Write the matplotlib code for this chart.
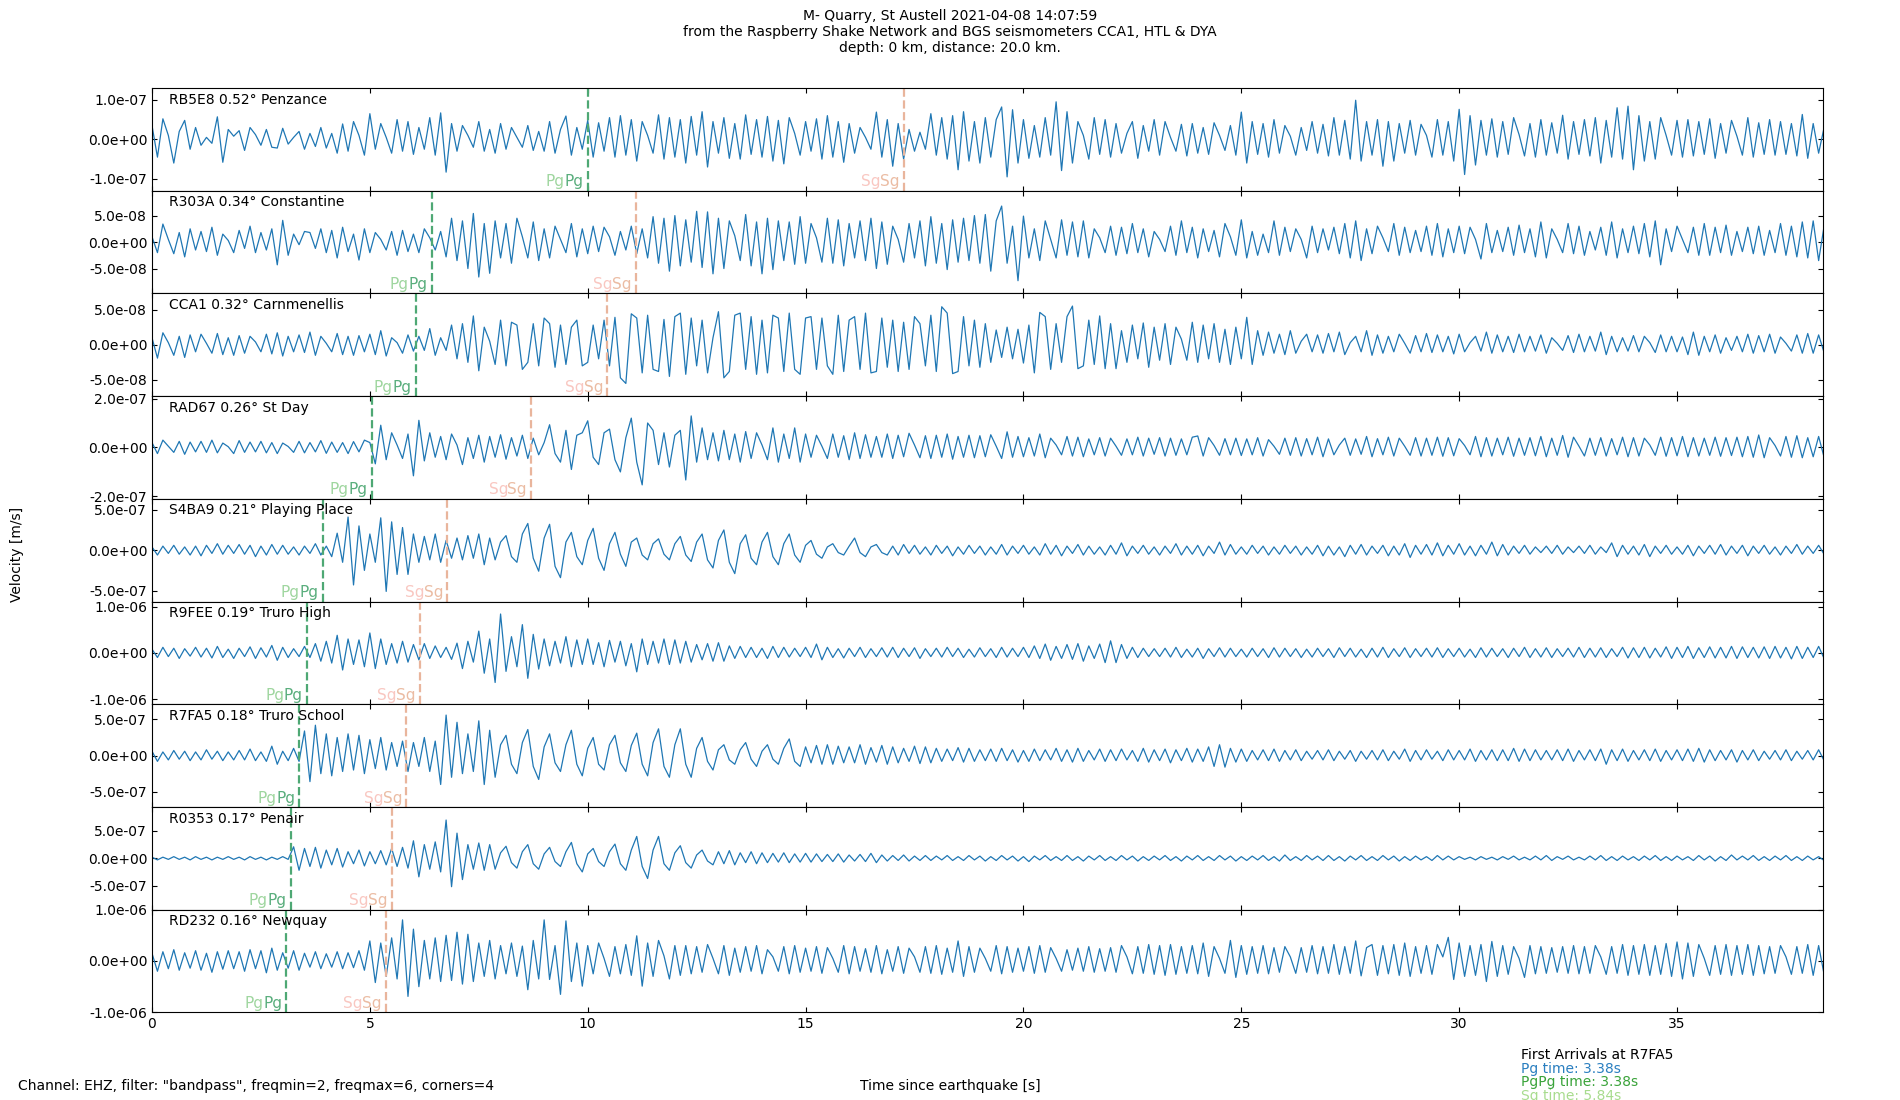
import numpy as np
import matplotlib

matplotlib.use("Agg")
import matplotlib.pyplot as plt
from matplotlib.ticker import FormatStrFormatter

dt = 0.125

stations = ["RB5E8", "R303A", "CCA1", "RAD67", "S4BA9", "R9FEE", "R7FA5", "R0353", "RD232"]
distances = [0.52, 0.34, 0.32, 0.26, 0.21, 0.19, 0.18, 0.17, 0.16]
places = ["Penzance", "Constantine", "Carnmenellis", "St Day", "Playing Place",
          "Truro High", "Truro School", "Penair", "Newquay"]
pg_times = [10.0, 6.42, 6.05, 5.05, 3.92, 3.56, 3.38, 3.19, 3.08]
sg_times = [17.25, 11.1, 10.45, 8.7, 6.78, 6.14, 5.84, 5.5, 5.36]
units = [1e-9, 1e-9, 1e-9, 1e-9, 1e-8, 1e-8, 1e-8, 1e-8, 1e-8]
ylims = [1.3e-7, 9.7e-8, 7.3e-8, 2.1e-7, 6.35e-7, 1.11e-6, 7.1e-7, 9.4e-7, 1.0e-6]
ytick_steps = [1e-7, 5e-8, 5e-8, 2e-7, 5e-7, 1e-6, 5e-7, 5e-7, 1e-6]

# velocity traces, one line per second
rb5e8 = [
    35, -45, 52, 10, -60, 20, 48, -25,
    30, -15, 5, -10, 57, -58, 25, 8,
    22, -28, 30, 12, -15, 25, -20, -22,
    28, -12, 5, 20, -25, 15, -18, 30,
    -22, 15, -35, 39, -30, 45, 10, -40,
    65, -25, 40, 5, -35, 50, -30, 45,
    -38, 30, -25, 55, -40, 67, -83, 40,
    -30, 35, 10, -20, 45, -30, 25, -35,
    40, -25, 30, 5, -20, 35, -28, 20,
    -30, 45, -35, 25, 59, -40, 30, -25,
    48, -45, 42, -30, 55, -45, 60, -40,
    50, -55, 45, 10, -35, 62, -50, 55,
    -45, 50, -60, 58, -40, 70, -70, 45,
    -35, 55, -48, 40, -50, 62, -38, 50,
    -45, 58, -55, 48, -62, 55, 15, -40,
    45, -30, 52, -50, 60, -45, 45, -58,
    40, -35, 30, 5, -25, 69, -45, 50,
    -68, 40, -50, 25, -30, 18, -25, 65,
    -40, 55, -50, 60, -77, 70, -55, 45,
    -60, 55, -45, 50, 82, -95, 75, -60,
    50, -48, 35, -45, 55, -40, 95, -79,
    70, -60, 45, 10, -50, 55, -38, 50,
    -45, 40, -35, 15, 45, -48, 35, -30,
    50, -40, 45, 5, -30, 38, -42, 40,
    -35, 30, -38, 42, 10, -28, 35, -40,
    69, -60, 45, -38, 40, -45, 50, -35,
    35, 8, -40, 30, -28, 45, -35, 38,
    -42, 55, -40, 48, -50, 99, -55, 45,
    -40, 50, -68, 45, -55, 40, -35, 48,
    -40, 38, 10, -45, 50, -40, 45, -55,
    76, -89, 60, -65, 48, -40, 52, -45,
    45, -38, 55, 12, -42, 40, -45, 50,
    -40, 42, -35, 61, -50, 45, -38, 50,
    -42, 55, -60, 48, -45, 80, -50, 84,
    -77, 60, -55, 45, -50, 55, 10, -40,
    48, -45, 50, -42, 45, -38, 52, -48,
    40, -35, 48, 8, -40, 55, -45, 42,
    -38, 50, -40, 45, -38, 40, -42, 63,
    -48, 40, -35, 30, -25, 35, -30, 28,
]
r303a = [
    10, -20, 34, 5, -22, 18, -28, 25,
    -15, 20, -18, 28, -25, 15, 3, -20,
    22, -12, 30, -20, 18, -15, 25, -43,
    41, -25, 15, -5, 20, 18, -12, 25,
    -20, 22, -30, 28, -18, 15, -34, 25,
    -20, 18, 5, -15, 20, -25, 22, -18,
    15, -20, 25, 8, -15, 20, -28, 45,
    -35, 40, -50, 54, -66, 35, -59, 40,
    -30, 35, -40, 45, 10, -30, 38, -35,
    25, -30, 30, 5, -20, 35, -28, 25,
    -22, 30, -18, 28, 10, -25, 20, -15,
    30, -22, 25, -30, 48, -40, 45, -55,
    50, -45, 42, -38, 58, -48, 57, -60,
    45, -50, 40, 12, -35, 52, -45, 38,
    -60, 45, -52, 40, -35, 38, -42, 48,
    -40, 35, 8, -38, 45, -40, 42, -45,
    35, -30, 40, -35, 45, -50, 38, -42,
    30, 5, -38, 35, -30, 40, -45, 48,
    -40, 35, -52, 42, -38, 45, -35, 50,
    -40, 52, -55, 40, 68, -40, 30, -73,
    49, -30, 25, -35, 40, 5, -30, 42,
    -25, 38, -28, 40, -30, 25, 8, -20,
    30, -25, 28, -22, 35, -20, 25, -28,
    20, 5, -18, 30, -25, 40, -20, 28,
    -30, 25, -18, 22, -28, 35, 10, -25,
    42, -30, 20, -25, 15, -20, 40, -25,
    28, -18, 25, 5, -30, 30, -20, 25,
    -15, 28, -22, 35, -30, 40, -35, 25,
    -22, 30, 8, -18, 35, -25, 28, -20,
    22, -18, 30, -25, 35, -28, 25, -20,
    30, -22, 28, 5, -32, 35, -20, 22,
    -18, 28, -25, 32, -20, 25, -28, 38,
    -30, 25, 5, -20, 35, -22, 30, -25,
    20, -15, 28, -25, 38, -30, 25, -20,
    30, -22, 35, -28, 40, -43, 25, -18,
    30, 5, -20, 28, -25, 35, -25, 28,
    -20, 32, -25, 20, -18, 28, -22, 30,
    -25, 22, -20, 35, -25, 30, -28, 38,
    -30, 40, -35, 30, -25, 20, -18, 15,
]
cca1 = [
    10, -19, 17, 3, -15, 12, -18, 14,
    -10, 15, 2, -12, 16, -14, 10, -15,
    13, -12, 12, 4, -10, 15, -13, 17,
    -16, 12, -10, 14, -11, 18, -15, 12,
    2, -10, 16, -14, 12, -15, 13, -10,
    15, -14, 20, -16, 10, 3, -12, 14,
    -9, 12, -8, 23, -15, 10, -8, 28,
    -20, 30, -25, 41, -37, 25, 5, -28,
    35, -30, 32, 28, -35, -25, 30, -30,
    38, 30, -32, 28, -28, 25, 35, -30,
    -25, 28, -20, 35, -30, 39, -47, -55,
    44, 38, -40, 42, -35, -38, 36, -45,
    40, 45, -42, 38, -30, 35, -40, 10,
    47, -47, -38, 42, 45, -35, 40, -42,
    35, -40, 42, 38, -38, 45, -35, -42,
    38, 40, -35, 38, -30, -42, 42, -38,
    35, 40, -35, 45, -40, -38, 38, -32,
    35, -38, 32, -35, 40, 30, -30, 42,
    -38, 54, 45, -41, -38, 40, -30, 35,
    -32, 30, -25, 21, -18, 25, -20, 22,
    -26, 28, -40, 46, 40, -35, 30, -25,
    40, 55, -34, -30, 35, -28, 41, -34,
    30, -34, 20, -25, 28, -20, 31, -32,
    25, -22, 30, -28, 25, 8, -22, 32,
    -25, 28, -20, 30, -25, 22, -28, 25,
    -20, 39, -28, 20, -15, 18, -12, 15,
    -14, 20, -12, 5, 15, -10, 14, -12,
    16, -10, 18, -14, 3, 12, -10, 20,
    -15, 14, -12, 12, -10, 15, 2, -12,
    13, -10, 16, -11, 14, -10, 12, -13,
    15, -10, 3, 12, -9, 18, -12, 14,
    -10, 12, -11, 15, -10, 12, -9, 14,
    -12, 10, 2, -8, 13, -11, 15, -10,
    12, -9, 18, -14, 12, -10, 10, -9,
    13, -10, 12, 3, -11, 14, -10, 12,
    -10, 11, -14, 18, -15, 12, -10, 14,
    -12, 10, -8, 12, -10, 15, -12, 13,
    -10, 15, -12, 11, 2, -9, 14, -12,
    16, -12, 14, -11, 15, -13, 17, -12,
]
rad67 = [
    20, -25, 30, 5, -20, 25, -28, 22,
    -18, 25, -20, 30, -22, 18, 3, -25,
    28, -20, 22, -18, 25, -22, 20, -25,
    18, 4, -20, 25, -22, 20, -18, 28,
    -24, 22, -20, 20, -25, 24, -18, 30,
    20, -67, 91, -50, 60, 10, -45, 55,
    -116, 111, -55, 60, -40, 45, -50, 55,
    10, -70, 40, -45, 50, -60, 45, -40,
    52, -48, 40, -35, 50, -45, 38, -30,
    20, 93, -25, -60, 70, -90, 50, 60,
    109, -40, -70, 60, 75, -50, -100, 40,
    120, -60, -153, 100, 70, -70, 60, -80,
    50, 70, -133, 129, -60, 80, -50, 60,
    -55, 70, -50, 55, -60, 65, -45, 60,
    10, -50, 80, -60, 55, -45, 80, -60,
    55, -40, 50, 5, -45, 55, -40, 48,
    -50, 60, -45, 52, -40, 45, -40, 55,
    -45, 50, -38, 58, 10, -42, 48, -45,
    50, -40, 55, -48, 45, -40, 50, -42,
    48, -38, 52, 5, -45, 64, -40, 45,
    -38, 40, -35, 55, -42, 38, 10, -30,
    45, -35, 42, -38, 35, -30, 40, -35,
    38, 5, -32, 35, -30, 42, -35, 38,
    -28, 40, -35, 38, -32, 35, -30, 42,
    47, -35, 40, 8, -32, 36, -30, 38,
    -33, 35, -30, 40, -35, 32, 5, -28,
    38, -32, 40, -35, 36, -30, 42, -38,
    35, -30, 10, 38, -32, 35, -28, 45,
    -38, 36, -30, 42, -35, 38, 5, -32,
    40, -35, 38, -32, 42, -36, 40, -34,
    36, 8, -30, 45, -38, 40, -35, 38,
    -30, 42, -36, 38, -32, 40, -34, 45,
    -38, 38, -32, 49, -40, 42, 5, -35,
    38, -32, 40, -35, 36, -30, 42, -38,
    40, -35, 38, 10, -32, 42, -36, 40,
    -34, 45, -38, 40, -35, 38, -32, 42,
    -36, 40, -33, 42, -38, 45, -40, 51,
    -42, 40, 8, -35, 45, -40, 48, -42,
    40, -38, 45, -40, 38, -32, 42, -36,
]
s4ba9 = [
    4, -6, 5, -4, 6, -5, 4, -6,
    5, -7, 6, -4, 8, -5, 6, -4,
    7, -5, 6, -8, 5, -6, 7, -5,
    6, -5, 4, -6, 5, -4, 8, -6,
    5, -8, 21, -15, 41, -43, 30, -25,
    20, -15, 40, -51, 35, -30, 28, -30,
    20, -15, 17, -12, 20, -15, 12, -10,
    15, -12, 18, -10, 20, -18, 15, -12,
    10, 18, -8, -15, 20, 33, -10, -26,
    15, 32, -20, -34, 10, 22, -8, -18,
    12, 27, -10, -25, 8, 22, -5, -20,
    10, 15, -6, -12, 8, 14, -5, -12,
    8, 17, -6, -14, 10, 20, -12, -22,
    12, 25, -15, -29, 8, 19, -10, -18,
    10, 22, -8, -18, 8, 20, -6, -15,
    6, 12, -5, -10, 4, 8, -3, -6,
    5, 15, -3, -8, 4, 7, -3, -6,
    5, -6, 7, -4, 6, -5, 4, -6,
    6, -4, 5, -7, 4, -5, 6, -4,
    5, -6, 4, -5, 7, -6, 5, -4,
    6, -5, 4, -6, 8, -5, 6, -7,
    5, -4, 7, -6, 5, -5, 4, -6,
    6, -5, 9, -7, 5, -4, 6, -5,
    4, -6, 5, -4, 8, -6, 5, -5,
    6, -7, 5, -4, 10, -6, 7, -5,
    4, -5, 6, -4, 5, -6, 4, -5,
    6, -4, 5, -6, 4, -5, 6, -7,
    5, -6, 4, -8, 6, -5, 7, -6,
    5, -4, 6, -7, 5, -6, 8, -9,
    6, -5, 7, -6, 9, -7, 6, -5,
    8, -6, 5, -7, 6, -5, 10, -7,
    7, -6, 5, -4, 6, -5, 4, -3,
    5, -4, 6, -5, 4, -3, 5, -4,
    6, -5, 4, -3, 9, -8, 6, -5,
    5, -6, 7, -8, 5, -4, 6, -5,
    4, -5, 6, -7, 5, -4, 6, -5,
    7, -6, 5, -4, 6, -7, 5, -4,
    6, -5, 4, -6, 5, -4, 7, -5,
    5, -4, 6, -5, 4, -5, 6, -4,
]
r9fee = [
    8, -10, 12, -8, 10, -12, 9, -7,
    12, -9, 10, -11, 14, -10, 8, -12,
    10, -8, 13, -12, 11, -9, 16, -16,
    12, -10, 9, -8, 14, -10, 20, -18,
    25, -22, 38, -37, 30, -25, 28, -30,
    43, -34, 30, -25, 20, -22, 25, -20,
    18, -15, 20, -12, 15, -10, 12, -14,
    21, -34, 25, -20, 47, -44, 30, -64,
    84, -40, 35, -30, 61, -55, 40, -35,
    30, -28, 25, -22, 35, -30, 28, -25,
    30, -25, 22, -30, 27, -20, 25, -28,
    20, -41, 30, -25, 25, -22, 30, -25,
    28, -22, 25, -20, 18, -15, 20, -18,
    22, -18, 15, -12, 14, -10, 12, -10,
    10, -12, 14, -10, 12, -9, 10, -8,
    12, -10, 19, -15, 12, -10, 9, -11,
    10, -8, 12, -10, 9, -8, 11, -9,
    12, -10, 10, -8, 11, -12, 9, -8,
    10, -9, 12, -8, 10, -10, 8, -9,
    11, -8, 9, -10, 12, -9, 10, -8,
    12, -10, 15, -12, 19, -16, 14, -12,
    18, -14, 20, -18, 15, -12, 19, -21,
    26, -21, 18, -12, 12, -10, 10, -8,
    9, -8, 10, -9, 12, -10, 8, -9,
    10, -12, 9, -8, 11, -9, 10, -8,
    8, -9, 10, -8, 9, -10, 11, -9,
    10, -8, 9, -10, 8, -9, 10, -8,
    9, -10, 11, -8, 10, -9, 8, -10,
    10, -9, 12, -10, 9, -8, 11, -10,
    9, -8, 10, -9, 11, -10, 9, -8,
    10, -9, 8, -10, 11, -9, 10, -8,
    9, -10, 10, -8, 12, -10, 9, -9,
    11, -10, 9, -8, 10, -9, 12, -10,
    10, -9, 11, -10, 9, -8, 12, -11,
    11, -10, 12, -11, 10, -9, 13, -12,
    12, -10, 14, -12, 11, -10, 13, -11,
    12, -11, 14, -12, 13, -10, 12, -11,
    13, -12, 14, -11, 12, -13, 14, -12,
    12, -10, 14, -12, 13, -11, 12, -10,
]
r7fa5 = [
    6, -8, 5, -6, 7, -5, 6, -7,
    5, -6, 8, -5, 6, -7, 5, -6,
    7, -6, 9, -7, 5, -8, 13, -12,
    6, -7, 10, -8, 34, -36, 42, -25,
    30, -28, 25, -22, 30, -20, 28, -25,
    22, -18, 25, -20, 18, -15, 20, -22,
    18, -15, 25, -22, 20, -40, 56, -30,
    46, -25, 30, -22, 48, -40, 35, -30,
    15, 28, -12, -25, 18, 36, -15, -33,
    12, 30, -10, -22, 15, 35, -12, -28,
    10, 25, -12, -20, 15, 28, -10, -22,
    14, 31, -12, -28, 18, 37, -15, -30,
    15, 37, -12, -30, 10, 25, -8, -20,
    8, 15, -6, -12, 8, 18, -5, -15,
    6, 15, -5, -12, 10, 23, -8, -15,
    12, -10, 14, -12, 15, -12, 13, -10,
    12, -10, 15, -12, 11, -9, 14, -12,
    12, -10, 10, -8, 13, -11, 12, -10,
    10, -8, 9, -7, 11, -9, 10, -8,
    8, -7, 9, -8, 10, -7, 8, -9,
    7, -8, 9, -7, 8, -6, 10, -8,
    8, -9, 10, -8, 7, -6, 9, -8,
    8, -7, 9, -6, 7, -8, 10, -9,
    8, -7, 9, -10, 8, -7, 10, -9,
    9, -8, 12, -15, 15, -16, 10, -9,
    9, -8, 7, -6, 8, -7, 9, -8,
    7, -6, 8, -7, 6, -5, 7, -6,
    8, -7, 6, -5, 7, -8, 6, -5,
    7, -6, 8, -7, 6, -5, 9, -8,
    7, -6, 8, -5, 6, -7, 8, -6,
    7, -6, 9, -8, 7, -6, 8, -7,
    8, -7, 10, -8, 9, -7, 8, -6,
    7, -6, 8, -7, 9, -8, 7, -6,
    8, -7, 9, -12, 8, -7, 9, -8,
    7, -6, 8, -7, 9, -8, 7, -6,
    8, -7, 9, -8, 10, -9, 8, -7,
    7, -6, 8, -9, 7, -6, 8, -7,
    6, -5, 7, -6, 8, -7, 6, -5,
    7, -6, 8, -7, 6, -5, 7, -6,
]
r0353 = [
    2, -3, 2, -2, 3, -2, 2, -3,
    3, -2, 2, -3, 2, -2, 3, -2,
    2, -3, 3, -2, 2, -3, 2, -2,
    3, -2, 21, -22, 18, -15, 20, -18,
    15, -12, 18, -16, 12, -10, 15, -14,
    12, -10, 14, -12, 18, -15, 20, -18,
    32, -34, 25, -20, 30, -25, 70, -52,
    46, -39, 25, -20, 28, -22, 25, -20,
    10, 22, -8, -18, 12, 25, -10, -20,
    8, 20, -6, -15, 12, 29, -10, -25,
    8, 18, -6, -15, 12, 26, -10, -22,
    15, 40, -15, -37, 15, 40, -10, -22,
    10, 23, -8, -18, 6, 15, -5, -12,
    12, -10, 14, -12, 10, -8, 12, -10,
    10, -8, 9, -7, 10, -8, 8, -7,
    9, -7, 8, -6, 7, -6, 8, -7,
    6, -5, 7, -6, 9, -8, 6, -5,
    5, -4, 6, -5, 4, -4, 5, -4,
    4, -3, 5, -4, 3, -4, 5, -3,
    4, -5, 3, -4, 5, -3, 4, -5,
    3, -6, 4, -3, 5, -4, 3, -4,
    5, -4, 3, -5, 4, -3, 5, -4,
    3, -4, 5, -3, 4, -5, 3, -4,
    4, -3, 5, -4, 3, -5, 4, -3,
    5, -4, 3, -4, 5, -3, 4, -5,
    3, -4, 4, -3, 5, -4, 3, -5,
    6, -4, 3, -4, 5, -3, 4, -4,
    5, -4, 3, -5, 4, -3, 5, -4,
    3, -4, 5, -3, 4, -5, 3, -4,
    4, -3, 3, -4, 5, -3, 4, -3,
    3, -2, 2, -3, 3, -2, 2, -3,
    3, -2, 4, -3, 2, -3, 4, -3,
    5, -4, 3, -2, 4, -3, 2, -3,
    4, -3, 5, -4, 3, -4, 4, -3,
    3, -4, 4, -3, 5, -4, 3, -4,
    4, -3, 3, -4, 5, -3, 4, -5,
    3, -4, 6, -3, 4, -3, 5, -4,
    3, -4, 4, -3, 5, -4, 3, -4,
    4, -3, 3, -4, 5, -3, 4, -3,
]
rd232 = [
    15, -20, 18, -15, 22, -18, 16, -14,
    20, -18, 15, -22, 18, -16, 20, -15,
    18, -20, 22, -15, 20, -23, 25, -18,
    16, -14, 20, -18, 15, -12, 18, -15,
    14, -12, 18, -15, 16, -13, 20, -18,
    39, -42, 35, -30, 45, -35, 80, -69,
    62, -50, 40, -35, 45, -40, 50, -38,
    56, -45, 52, -40, 35, -30, 40, -35,
    30, -25, 35, -30, 29, -56, 40, -35,
    80, -36, 30, -65, 78, -40, 35, -49,
    30, -25, 35, 5, -30, 28, -25, 32,
    -28, 49, -49, 35, -30, 40, 10, -35,
    30, -28, 30, -25, 28, -22, 32, 5,
    -25, 30, -28, 25, -22, 28, -20, 30,
    -25, 22, 8, -20, 28, -25, 30, -22,
    25, -20, 28, -24, 26, 5, -22, 30,
    -25, 28, -20, 24, -22, 30, -25, 22,
    -20, 28, -24, 25, 8, -22, 28, -24,
    30, -26, 25, -22, 39, -30, 28, -22,
    25, 5, -20, 30, -25, 28, -22, 25,
    -20, 28, -24, 30, -22, 26, 5, -20,
    22, -18, 25, -20, 28, -22, 24, -20,
    26, -22, 30, 8, -25, 28, -24, 32,
    -26, 30, -28, 32, -26, 28, -24, 30,
    -25, 35, -30, 28, 5, -24, 40, -32,
    30, -26, 28, -24, 30, -25, 26, -22,
    28, 8, -24, 26, -22, 30, -25, 28,
    -24, 32, -26, 28, -24, 39, -29, 26,
    32, -28, 30, -25, 32, -28, 35, -30,
    28, -24, 30, -26, 32, 8, 46, -36,
    35, -30, 30, -28, 32, -40, 38, -30,
    30, -26, 28, 5, -32, 30, -25, 28,
    -24, 26, -22, 28, -24, 30, -25, 28,
    -24, 30, 8, -26, 28, -24, 32, -28,
    30, -26, 32, -28, 30, -26, 34, -30,
    37, -35, 35, -30, 32, 5, -28, 30,
    -26, 32, -28, 30, -26, 32, -28, 30,
    -25, 28, -24, 30, 8, -26, 28, -24,
    32, -28, 30, -26, 28, -24, 30, -26,
]
traces = [rb5e8, r303a, cca1, rad67, s4ba9, r9fee, r7fa5, r0353, rd232]

t_max = 38.36
trace_color = "#1f77b4"
pg_color = "#4ea874"
sg_color = "#e9b59c"

fig, axes = plt.subplots(9, 1, figsize=(19, 11), dpi=100, sharex=True)
fig.subplots_adjust(left=0.08, right=0.9597, top=0.92, bottom=0.0797, hspace=0)

for i, ax in enumerate(axes):
    vel = np.array(traces[i]) * units[i]
    t = np.arange(len(vel)) * dt
    ax.plot(t, vel, color=trace_color, lw=0.9)

    ax.axvline(pg_times[i], color=pg_color, ls="--", lw=1.6)
    ax.axvline(sg_times[i], color=sg_color, ls="--", lw=1.6)

    # phase labels: faint name followed by the stronger one, ending at the pick
    trans = ax.get_xaxis_transform()
    for tp, c1, c2, name in [(pg_times[i], "#9fd69f", "#5aae7d", "Pg"),
                             (sg_times[i], "#f9c7c1", "#ebbca3", "Sg")]:
        ax.annotate(name, (tp, 0.0), xycoords=trans, xytext=(-3, 1),
                    textcoords="offset points", ha="right", va="bottom",
                    color=c2, fontsize=11)
        ax.annotate(name, (tp, 0.0), xycoords=trans, xytext=(-16.6, 1),
                    textcoords="offset points", ha="right", va="bottom",
                    color=c1, fontsize=11)

    ax.text(0.01, 0.955, f"{stations[i]} {distances[i]:.2f}° {places[i]}",
            transform=ax.transAxes, va="top", ha="left", fontsize=10)

    ax.set_ylim(-ylims[i], ylims[i])
    step = ytick_steps[i]
    ax.set_yticks([-step, 0, step])
    ax.yaxis.set_major_formatter(FormatStrFormatter("%.1e"))
    ax.tick_params(direction="in", top=True, right=True, labelsize=10)

axes[-1].set_xlim(0, t_max)
axes[-1].set_xticks(np.arange(0, 36, 5))

fig.suptitle("M- Quarry, St Austell 2021-04-08 14:07:59\n"
             "from the Raspberry Shake Network and BGS seismometers CCA1, HTL & DYA\n"
             "depth: 0 km, distance: 20.0 km.", y=0.992, va="top", fontsize=10)
fig.text(0.009, 0.4964, "Velocity [m/s]", rotation=90, ha="center", va="center", fontsize=10)
fig.text(0.5, 0.0127, "Time since earthquake [s]", ha="center", va="center", fontsize=10)
fig.text(0.0095, 0.0127, 'Channel: EHZ, filter: "bandpass", freqmin=2, freqmax=6, corners=4',
         ha="left", va="center", fontsize=10)

# first arrival summary
fig.text(0.8005, 1 - 1055 / 1100, "First Arrivals at R7FA5", color="black", va="center", fontsize=10)
fig.text(0.8005, 1 - 1069 / 1100, "Pg time: 3.38s", color="#2a7fc0", va="center", fontsize=10)
fig.text(0.8005, 1 - 1082 / 1100, "PgPg time: 3.38s", color="#3aa33a", va="center", fontsize=10)
fig.text(0.8005, 1 - 1096 / 1100, "Sg time: 5.84s", color="#a8dc8e", va="center", fontsize=10)

fig.savefig("out.png", dpi=100)
